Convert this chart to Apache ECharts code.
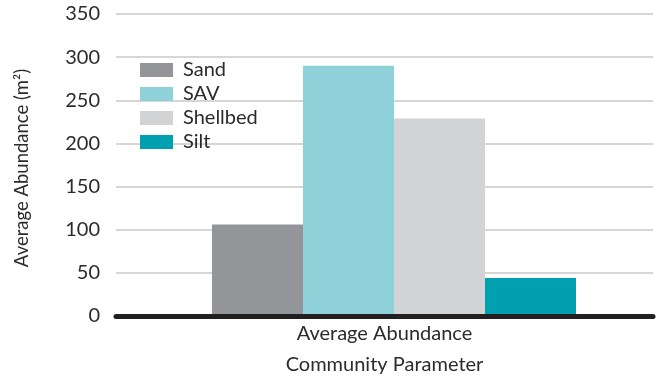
<!DOCTYPE html>
<html>
<head>
<meta charset="utf-8">
<script src="https://cdn.jsdelivr.net/npm/echarts@6/dist/echarts.min.js"></script>
<style>
  html, body { margin: 0; padding: 0; background: #ffffff; }
  #chart { width: 658px; height: 381px; }
</style>
</head>
<body>
<div id="chart"></div>
<script>
// Average abundance per bottom habitat type
var categories = ['Average Abundance'];
var seriesNames = ['Sand', 'SAV', 'Shellbed', 'Silt'];
var sandValues = [106];
var savValues = [290];
var shellbedValues = [229];
var siltValues = [44];
var yTicks = [0, 50, 100, 150, 200, 250, 300, 350];

var colors = ['#939598', '#8ed1d9', '#d1d3d4', '#00a0b0'];
var valuesBySeries = [sandValues, savValues, shellbedValues, siltValues];
var FONT = 'Lato';
var TEXT = '#2b2b2b';

var chart = echarts.init(document.getElementById('chart'), null, { renderer: 'canvas' });

var series = seriesNames.map(function (name, i) {
  return {
    name: name,
    type: 'bar',
    xAxisIndex: 1,
    yAxisIndex: 1,
    barWidth: 91,
    barGap: '0%',
    itemStyle: { color: colors[i] },
    data: valuesBySeries[i]
  };
});

chart.setOption({
  animation: false,
  textStyle: { fontFamily: FONT },
  grid: [
    { left: 116, right: 5, top: 14, bottom: 65 },
    { left: 135, right: 5, top: 14, bottom: 65 }
  ],
  legend: {
    orient: 'vertical',
    left: 140,
    top: 60,
    padding: 0,
    icon: 'rect',
    itemWidth: 33,
    itemHeight: 14,
    itemGap: 4,
    textStyle: { fontFamily: FONT, fontSize: 20, color: TEXT, padding: [0, 0, 0, 5] },
    data: seriesNames
  },
  xAxis: [
    {
      type: 'category',
      gridIndex: 0,
      data: categories,
      z: 5,
      axisLine: { lineStyle: { color: '#231f20', width: 5 } },
      axisTick: { show: false },
      axisLabel: { fontFamily: FONT, fontSize: 20, color: TEXT, margin: 8 },
      name: 'Community Parameter',
      nameLocation: 'middle',
      nameGap: 39,
      nameTextStyle: { fontFamily: FONT, fontSize: 20, color: TEXT }
    },
    {
      type: 'category',
      gridIndex: 1,
      data: categories,
      show: false
    }
  ],
  yAxis: [
    {
      type: 'value',
      gridIndex: 0,
      min: yTicks[0],
      max: yTicks[yTicks.length - 1],
      interval: yTicks[1] - yTicks[0],
      axisLine: { show: false },
      axisTick: { show: false },
      axisLabel: { fontFamily: FONT, fontSize: 20, color: TEXT, margin: 16 },
      splitLine: { lineStyle: { color: '#c9c9c9', width: 1.5 } }
    },
    {
      type: 'value',
      gridIndex: 1,
      min: yTicks[0],
      max: yTicks[yTicks.length - 1],
      interval: yTicks[1] - yTicks[0],
      show: false,
      splitLine: { show: false }
    }
  ],
  graphic: [
    {
      type: 'text',
      x: 22,
      y: 168,
      rotation: Math.PI / 2,
      style: {
        text: 'Average Abundance (m²)',
        fontFamily: FONT,
        fontSize: 18.5,
        fill: TEXT,
        textAlign: 'center',
        textVerticalAlign: 'middle'
      }
    }
  ],
  series: series
});
</script>
</body>
</html>
